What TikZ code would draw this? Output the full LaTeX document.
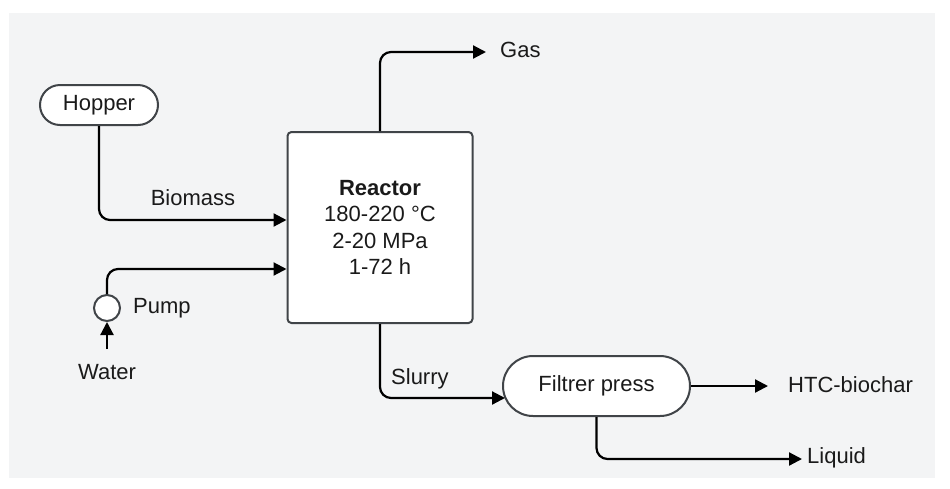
\documentclass[tikz,border=0pt]{standalone}
\usepackage{fontspec}
\setmainfont{Liberation Sans}
\usetikzlibrary{arrows.meta}
\definecolor{bgc}{HTML}{F3F4F5}
\definecolor{edgec}{HTML}{404448}
\definecolor{txt}{HTML}{1A1A1A}
\begin{document}
\begin{tikzpicture}[x=1pt,y=-1pt,
  unit/.style={draw=edgec, fill=white, line width=2pt, text=txt, inner sep=0pt, font=\fontsize{22}{26.5}\selectfont},
  lbl/.style={text=txt, inner sep=0pt, font=\fontsize{22}{26}\selectfont},
  flow/.style={draw=black, line width=2.2pt, rounded corners=11pt, -{Triangle[length=13pt,width=13pt]}}
]
\useasboundingbox (0,0) rectangle (950,488);
\fill[white] (0,0) rectangle (950,488);
\fill[bgc] (9,13) rectangle (935,478);

% units
\node[unit, minimum width=118pt, minimum height=40pt, rounded corners=20pt] (hopper) at (99,105) {Hopper};
\node[unit, minimum width=185pt, minimum height=191pt, rounded corners=4pt, align=center] (reactor) at (380,227.5)
      {\textbf{Reactor}\\180-220 °C\\2-20 MPa\\1-72 h};
\node[unit, circle, minimum size=26pt] (pump) at (107,308) {};
\node[unit, minimum width=187pt, minimum height=60pt, rounded corners=30pt] (filter) at (596.5,386) {Filtrer press};

% labels
\node[lbl] (biomass) at (193,198) {Biomass};
\node[lbl, anchor=west] (pumplbl) at (133,308) {Pump};
\node[lbl] (water) at (107,372) {Water};
\node[lbl, anchor=west] (gas) at (500,50) {Gas};
\node[lbl, anchor=west] (slurry) at (391,379) {Slurry};
\node[lbl, anchor=west] (htc) at (788,385) {HTC-biochar};
\node[lbl, anchor=west] (liquid) at (807,458) {Liquid};

% coordinates
\coordinate (bioy) at (0,220);
\coordinate (wy) at (0,269);
\coordinate (gasend) at (486,52);
\coordinate (wstart) at (107,349);
\coordinate (slend) at (505,398);
\coordinate (htcend) at (768,386);
\coordinate (liqend) at (802,459);

% connectors
\draw[flow] (hopper.south) |- (reactor.west |- bioy);
\draw[flow] (pump.north) |- (reactor.west |- wy);
\draw[flow] (wstart) -- (pump.south);
\draw[flow] (reactor.north) |- (gasend);
\draw[flow] (reactor.south) |- (slend);
\draw[flow] (filter.east) -- (htcend);
\draw[flow] (filter.south) |- (liqend);
\end{tikzpicture}
\end{document}
